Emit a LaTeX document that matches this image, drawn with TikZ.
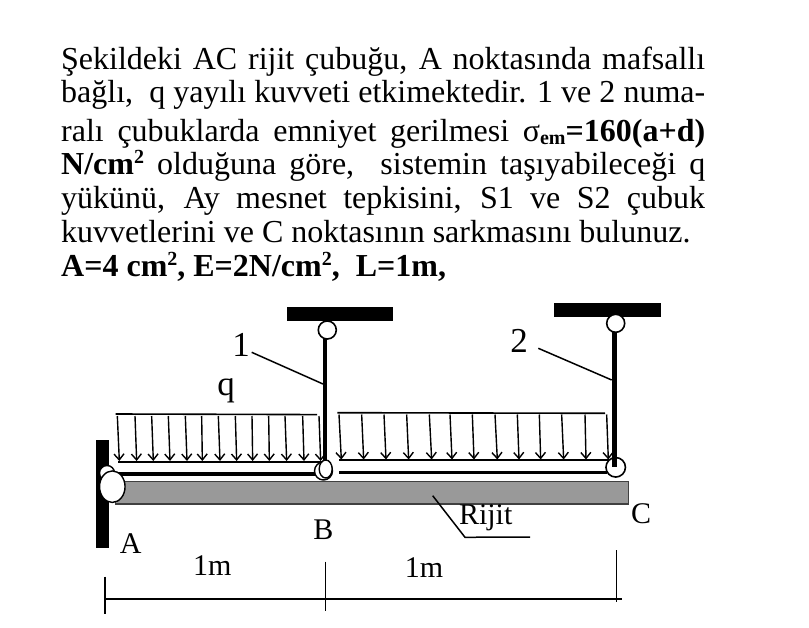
\documentclass[tikz,border=0pt]{standalone}
\usepackage{fontspec}
\setmainfont{Liberation Serif}
\usetikzlibrary{arrows.meta,shapes.geometric}
\newcommand{\fullline}[1]{\makebox[644pt][s]{#1}}
\tikzset{
  x=1pt,y=-1pt,
  txt/.style={anchor=base west,inner sep=0pt,font=\fontsize{32}{32}\selectfont},
  lbl/.style={inner sep=0pt,font=\fontsize{35}{35}\selectfont},
  lblb/.style={inner sep=0pt,font=\fontsize{30}{30}\selectfont},
  support/.style={fill=black,draw=none},
  pin/.style={circle,draw=black,fill=white,line width=1.6pt,inner sep=0pt,minimum size=18pt},
  pinoval/.style={ellipse,draw=black,fill=white,line width=1.4pt,inner sep=0pt},
  strut/.style={line width=4.5pt,black},
  loadline/.style={line width=1.6pt,black},
  loadarrow/.style={line width=1.4pt,-{Straight Barb[length=6pt,width=10pt,line width=1.4pt]}},
  band/.style={line width=3.2pt,black},
}
\begin{document}
\begin{tikzpicture}
\useasboundingbox (0,0) rectangle (809,628);
\fill[white] (0,0) rectangle (809,628);
% text
\node[txt] (l1) at (61,70) {\fullline{Şekildeki AC rijit çubuğu, A noktasında mafsallı}};
\node[txt] (l2) at (61,103) {\fullline{bağlı,\ \ q yayılı kuvveti etkimektedir. 1 ve 2 numa-}};
\node[txt] (l3) at (61,142) {\fullline{ralı çubuklarda emniyet gerilmesi σ\raisebox{-3pt}{\fontsize{20}{20}\selectfont\bfseries em}\textbf{=160(a+d)}}};
\node[txt] (l4) at (61,175) {\fullline{\textbf{N/cm\raisebox{11pt}{\fontsize{20}{20}\selectfont 2}} olduğuna göre,\ \ sistemin taşıyabileceği q}};
\node[txt] (l5) at (61,209) {\fullline{yükünü, Ay mesnet tepkisini, S1 ve S2 çubuk}};
\node[txt] (l6) at (61,243) {kuvvetlerini ve C noktasının sarkmasını bulunuz.};
\node[txt] (l7) at (61,277) {\textbf{A=4 cm\raisebox{11pt}{\fontsize{20}{20}\selectfont 2}, E=2N/cm\raisebox{11pt}{\fontsize{20}{20}\selectfont 2},\ \ L=1m,}};
% supports
\fill[support] (287,307) rectangle (393,321);
\fill[support] (554,303) rectangle (660.5,317);
\fill[support] (95.5,440) rectangle (109,548);
% beam
\node[draw=black!75,fill=black!40,line width=1.3pt,minimum width=513pt,minimum height=22.5pt,inner sep=0pt,anchor=north west] (beam) at (115,480.7) {};
% struts
\node[pin] (t1) at (327.3,330) {};
\node[pin] (t2) at (615.7,323.3) {};
\coordinate (s1a) at (325,339);
\coordinate (b1) at (325,462);
\coordinate (s2a) at (614.7,331.7);
\coordinate (b2) at (614.7,467);
\draw[strut] (s1a) -- (b1);
\draw[strut] (s2a) -- (b2);
% leaders
\node[lbl] (n1) at (241,345) {1};
\node[lbl] (n2) at (519,341) {2};
\node[lbl] (q) at (226,391) {q};
\coordinate (lead1a) at (251.7,352.3);
\coordinate (lead1b) at (323,384);
\coordinate (lead2a) at (538.3,348.3);
\coordinate (lead2b) at (611.7,380);
\draw[line width=1.5pt] (lead1a) -- (lead1b);
\draw[line width=1.5pt] (lead2a) -- (lead2b);
% loads
\draw[loadline] (115.7,414) -- (317,414.6);
\draw[loadline] (118,461.7) -- (325,461.7);
\draw[loadline] (337.3,412.7) -- (605,413.3);
\draw[loadline] (339.3,460) -- (615,460);
\foreach \a/\b in {112/118,165/170,215/220,265/270,316/321,365/367,415/420,466/470,516/518,566/568,615/620,668/672,717/722}
  \draw[loadarrow] ({80+\a/3},416) -- ({80+\b/3},461);
\foreach \a/\b in {57/64,125/131,192/198,260/266,328/335,390/396,457/462,525/532,592/597,658/662,725/731,795/798,860/865}
  \draw[loadarrow] ({320+\a/3},414.5) -- ({320+\b/3},459.5);
\draw[band] (118,474) -- (317,474);
\draw[band] (339.3,472.7) -- (606.7,472.7);
% hinges
\node[pinoval,minimum width=15pt,minimum height=15pt] (a0) at (107,473) {};
\node[pinoval,minimum width=25.5pt,minimum height=31.5pt] (a) at (112.3,486.7) {};
\node[pinoval,minimum width=18pt,minimum height=18pt] (b0) at (323.5,471) {};
\node[pinoval,minimum width=13pt,minimum height=18pt] (b) at (325.7,469) {};
\node[pin,minimum size=19.5pt] (c) at (615.7,467.3) {};
\draw[strut] (614.7,455) -- (614.7,467);
% rijit
\coordinate (r1) at (432.7,495.7);
\coordinate (r2) at (465,537.3);
\coordinate (r3) at (530,537);
\draw[line width=1.5pt] (r1) -- (r2) -- (r3);
\node[lblb] (rijit) at (485.7,518) {Rijit};
\node[lblb] (A) at (130.7,544) {A};
\node[lblb] (B) at (323.3,530) {B};
\node[lblb] (C) at (641,514) {C};
\node[lblb] (m1) at (212.3,566) {1m};
\node[lblb] (m2) at (424,567.5) {1m};
% dimensions
\coordinate (d0) at (105,599);
\coordinate (d1) at (325.7,599);
\coordinate (d2) at (616.7,599);
\coordinate (d3) at (621.7,599);
\draw[line width=1.5pt] (d0) -- (d1) -- (d2) -- (d3);
\draw[line width=1.4pt] (105,576.7) -- (d0) -- (105,614);
\draw[line width=1.4pt] (325.7,561.7) -- (d1) -- (325.7,610.7);
\draw[line width=1.4pt] (616.7,550) -- (d2) -- (616.7,602);
\end{tikzpicture}
\end{document}
